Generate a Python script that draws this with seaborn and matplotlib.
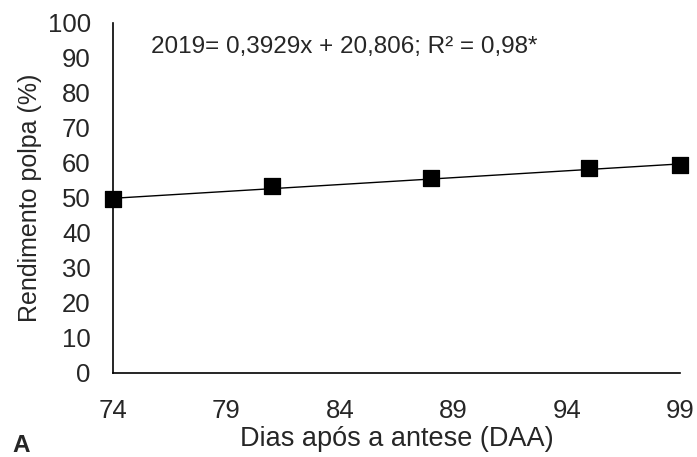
import numpy as np
import matplotlib.pyplot as plt
import seaborn as sns
import pandas as pd

# data
dias = [74, 81, 88, 95, 99]
rendimento = [49.6, 53.5, 55.6, 58.6, 59.4]
coef_a = 0.3929
coef_b = 20.806
x_ticks = [74, 79, 84, 89, 94, 99]
y_ticks = [0, 10, 20, 30, 40, 50, 60, 70, 80, 90, 100]

sns.set_style("white")
plt.rcParams['font.family'] = ['Liberation Sans', 'DejaVu Sans']

df = pd.DataFrame({"dias": dias, "rendimento": rendimento})
fit = pd.DataFrame({"dias": [dias[0], dias[-1]]})
fit["rendimento"] = coef_a * fit["dias"] + coef_b

fig = plt.figure(figsize=(6.97, 4.57), dpi=100)
ax = fig.add_axes([0.162, 0.184, 0.814, 0.766])

sns.lineplot(data=fit, x="dias", y="rendimento", color="black", linewidth=1, ax=ax)
sns.scatterplot(data=df, x="dias", y="rendimento", marker="s", s=130,
                color="black", edgecolor="black", ax=ax, zorder=3, clip_on=False)

ax.set_xlim(74, 99)
ax.set_ylim(0, 100)
ax.set_xticks(x_ticks)
ax.set_yticks(y_ticks)
ax.tick_params(axis="both", labelsize=18.5, length=0)
ax.tick_params(axis="x", pad=19)
ax.tick_params(axis="y", pad=16)
sns.despine(ax=ax)
for side in ["left", "bottom"]:
    ax.spines[side].set_color("black")
    ax.spines[side].set_linewidth(1.2)

ax.set_xlabel("Dias após a antese (DAA)", fontsize=19.5, labelpad=2)
ax.set_ylabel("Rendimento polpa (%)", fontsize=18, labelpad=4)

ax.text(75.7, 93, "2019= 0,3929x + 20,806; R² = 0,98*", fontsize=17.5,
        ha="left", va="center")
fig.text(0.018, 0.012, "A", fontsize=17.5, fontweight="bold")

plt.savefig("out.png", dpi=100)
